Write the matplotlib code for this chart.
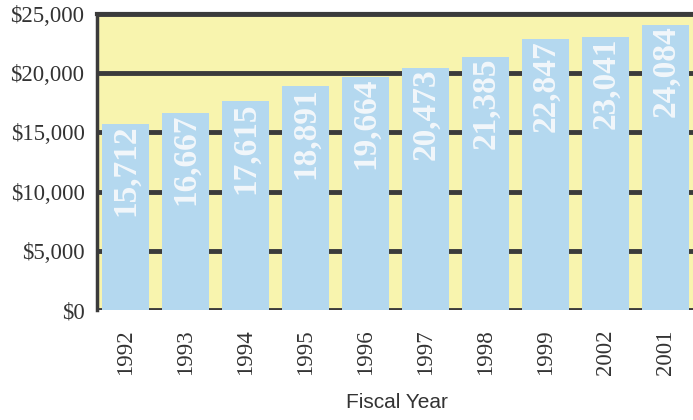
import matplotlib.pyplot as plt
from matplotlib.ticker import FuncFormatter

# Per-year amounts shown on the bars
years = ['1992', '1993', '1994', '1995', '1996', '1997', '1998', '1999', '2002', '2001']
amounts = [15712, 16667, 17615, 18891, 19664, 20473, 21385, 22847, 23041, 24084]
y_ticks = [0, 5000, 10000, 15000, 20000, 25000]

BAR_COLOR = '#b4d8ef'
BG_COLOR = '#f8f4ae'
LINE_COLOR = '#3b3b3b'
TEXT_COLOR = '#333333'

fig = plt.figure(figsize=(6.93, 4.2), dpi=100)
ax = fig.add_axes([0.140, 0.2619, 0.8658, 0.7048])
ax.set_facecolor(BG_COLOR)

x = range(len(years))
ax.bar(x, amounts, width=0.77, color=BAR_COLOR, zorder=2)

# value labels written vertically inside the top of each bar
for i, v in enumerate(amounts):
    ax.text(i, v - 60, f'{v:,}', rotation=90, ha='center', va='top',
            color='#f2f7fb', fontsize=24, family='Liberation Serif',
            fontweight='bold', zorder=3)

ax.set_xlim(-0.475, 9.525)
ax.set_ylim(0, 25000)
ax.set_yticks(y_ticks)
ax.yaxis.set_major_formatter(FuncFormatter(lambda v, p: f'${int(v):,}'))
ax.set_xticks(list(x))
ax.set_xticklabels(years, rotation=90)

ax.yaxis.grid(True, color=LINE_COLOR, linewidth=3.5)
ax.set_axisbelow(True)

for lbl in ax.get_yticklabels() + ax.get_xticklabels():
    lbl.set_family('Liberation Serif')
    lbl.set_color(TEXT_COLOR)
    lbl.set_fontsize(16.5)

ax.tick_params(axis='y', length=0, pad=9)
ax.tick_params(axis='x', length=0, pad=14)

ax.spines['right'].set_visible(False)
ax.spines['bottom'].set_visible(False)
ax.spines['top'].set_color(LINE_COLOR)
ax.spines['top'].set_linewidth(3)
ax.spines['left'].set_color(LINE_COLOR)
ax.spines['left'].set_linewidth(2.5)

fig.text(397 / 693, 1 - 403 / 420, 'Fiscal Year', ha='center', va='center',
         family='Liberation Sans', fontsize=15, color=TEXT_COLOR)

fig.savefig('out.png', dpi=100, facecolor='white')
